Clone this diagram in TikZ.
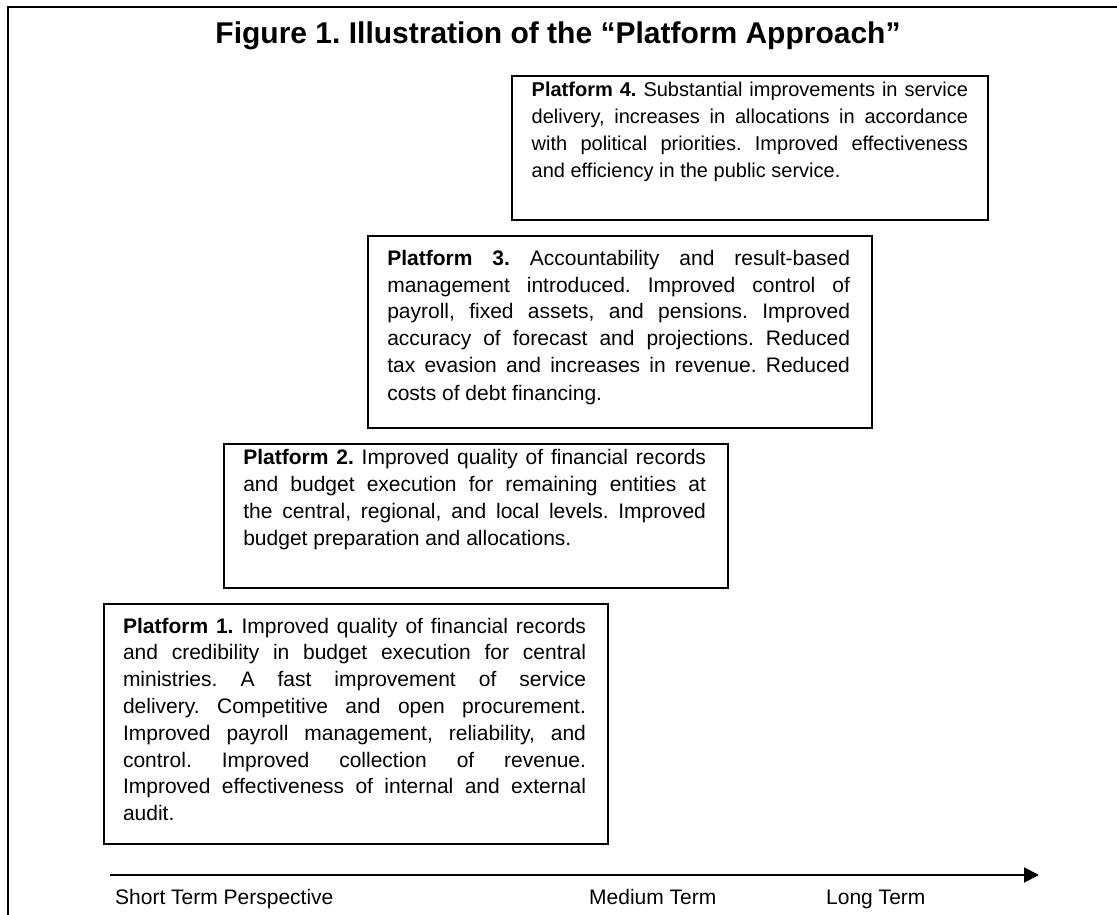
\documentclass[tikz,border=0pt]{standalone}
\usepackage{fontspec}
\setmainfont{Liberation Sans}
\usetikzlibrary{arrows.meta}
\frenchspacing
\newcommand{\myjl}[1]{\makebox[\linewidth][s]{#1}}
\newcommand{\mylast}[1]{\makebox[\linewidth][l]{#1}}
\tikzset{
  pbox/.style={draw=black, line width=1.6pt, rectangle, inner sep=0pt, anchor=north west},
  ptext/.style={anchor=base west, inner sep=0pt, outer sep=0pt},
  lbl/.style={anchor=base west, inner sep=0pt, font=\fontsize{21}{26}\selectfont},
  frameline/.style={line width=2pt, black},
  axisline/.style={line width=2pt, black, -{Triangle[length=15pt,width=15pt]}}
}
\begin{document}
\begin{tikzpicture}[x=1pt,y=-1pt]
\useasboundingbox (0,0) rectangle (1117,915);
\begin{scope}
\clip (0,0) rectangle (1117,915);
\draw[frameline] (8,930) -- (8,7.5) -- (1130,7.5);
\end{scope}

\node[anchor=base, inner sep=0pt, font=\fontsize{30}{35}\selectfont\bfseries] (title) at (558,44) {Figure 1. Illustration of the “Platform Approach”};

% Platform 4
\node[pbox, minimum width=476pt, minimum height=143.5pt] (p4) at (511,75.5) {};
\node[ptext] (p4t) at (531.7,96.5) {\parbox[t]{436.3pt}{\fontsize{20}{27}\selectfont
\myjl{\textbf{Platform 4.} Substantial improvements in service}\\
\myjl{delivery, increases in allocations in accordance}\\
\myjl{with political priorities. Improved effectiveness}\\
\mylast{and efficiency in the public service.}}};

% Platform 3
\node[pbox, minimum width=504pt, minimum height=192pt] (p3) at (367,235) {};
\node[ptext] (p3t) at (387.3,265) {\parbox[t]{462.7pt}{\fontsize{21}{27}\selectfont
\myjl{\textbf{Platform 3.} Accountability and result-based}\\
\myjl{management introduced. Improved control of}\\
\myjl{payroll, fixed assets, and pensions. Improved}\\
\myjl{accuracy of forecast and projections. Reduced}\\
\myjl{tax evasion and increases in revenue. Reduced}\\
\mylast{costs of debt financing.}}};

% Platform 2
\node[pbox, minimum width=504pt, minimum height=144pt] (p2) at (223,443) {};
\node[ptext] (p2t) at (243.3,464.5) {\parbox[t]{462.7pt}{\fontsize{21}{27}\selectfont
\myjl{\textbf{Platform 2.} Improved quality of financial records}\\
\myjl{and budget execution for remaining entities at}\\
\myjl{the central, regional, and local levels. Improved}\\
\mylast{budget preparation and allocations.}}};

% Platform 1
\node[pbox, minimum width=504pt, minimum height=240pt] (p1) at (103,603) {};
\node[ptext] (p1t) at (123,633) {\parbox[t]{463pt}{\fontsize{21}{26.8}\selectfont
\myjl{\textbf{Platform 1.} Improved quality of financial records}\\
\myjl{and credibility in budget execution for central}\\
\myjl{ministries. A fast improvement of service}\\
\myjl{delivery. Competitive and open procurement.}\\
\myjl{Improved payroll management, reliability, and}\\
\myjl{control. Improved collection of revenue.}\\
\myjl{Improved effectiveness of internal and external}\\
\mylast{audit.}}};

% time axis
\coordinate (ax0) at (110,875);
\coordinate (ax1) at (1039,875);
\draw[axisline] (ax0) -- (ax1);

\node[lbl] (short) at (115,904) {Short Term Perspective};
\node[lbl] (medium) at (589,904) {Medium Term};
\node[lbl] (long) at (826,904) {Long Term};
\end{tikzpicture}
\end{document}
